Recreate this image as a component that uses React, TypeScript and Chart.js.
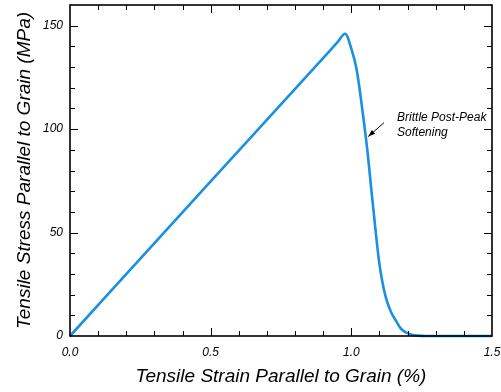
import React, { useEffect, useRef } from 'react';
import { Chart, registerables } from 'chart.js';

Chart.register(...registerables);

// Tensile strain (%) and tensile stress (MPa)
const strainPct = [0, 0.5, 0.924, 0.95, 0.978, 1.001, 1.019, 1.033, 1.046, 1.058, 1.07, 1.086, 1.098, 1.109, 1.123, 1.141, 1.159, 1.177, 1.194, 1.216, 1.237, 1.262, 1.35, 1.5];
const stressMPa = [0, 74.7, 138, 141.9, 146.1, 138.4, 128.7, 115.8, 102.1, 88.5, 72.2, 51.2, 36.7, 27.1, 18.4, 11.6, 7.3, 3.4, 1.7, 0.6, 0.2, 0, 0, 0];

const xLabelValues = [0, 0.5, 1.0, 1.5];
const yLabelValues = [0, 50, 100, 150];
const xMinorStep = 0.1;
const yMinorStep = 10;

const xTitle = 'Tensile Strain Parallel to Grain (%)';
const yTitle = 'Tensile Stress Parallel to Grain (MPa)';
const noteLines = ['Brittle Post-Peak', 'Softening'];

const FONT = '"Liberation Sans", Arial, Helvetica, sans-serif';

const isXMajor = (v: number) => xLabelValues.some((l) => Math.abs(l - v) < 1e-6);
const isYMajor = (v: number) => yLabelValues.some((l) => Math.abs(l - v) < 1e-6);

const zeroPadding = (s: any) => {
  s.paddingTop = 0;
  s.paddingBottom = 0;
  s.paddingLeft = 0;
  s.paddingRight = 0;
};

const framePlugin = {
  id: 'framePlugin',
  afterDraw(chart: any) {
    const { ctx, chartArea: a, scales } = chart;
    const xs = scales.x;
    const ys = scales.y;
    ctx.save();
    ctx.strokeStyle = '#000';
    ctx.lineWidth = 1;
    ctx.beginPath();
    const nx = Math.round((xs.max - xs.min) / xMinorStep);
    for (let i = 1; i < nx; i++) {
      const v = xs.min + i * xMinorStep;
      const px = Math.round(xs.getPixelForValue(v)) + 0.5;
      const len = isXMajor(v) ? 8 : 5;
      ctx.moveTo(px, a.bottom);
      ctx.lineTo(px, a.bottom - len);
      ctx.moveTo(px, a.top);
      ctx.lineTo(px, a.top + len);
    }
    const ny = Math.round((ys.max - ys.min) / yMinorStep);
    for (let i = 1; i < ny; i++) {
      const v = ys.min + i * yMinorStep;
      const py = Math.round(ys.getPixelForValue(v)) + 0.5;
      const len = isYMajor(v) ? 8 : 5;
      ctx.moveTo(a.left, py);
      ctx.lineTo(a.left + len, py);
      ctx.moveTo(a.right, py);
      ctx.lineTo(a.right - len, py);
    }
    ctx.stroke();

    ctx.lineWidth = 1.6;
    ctx.strokeRect(a.left, a.top, a.right - a.left, a.bottom - a.top);

    // annotation
    const tail = { x: xs.getPixelForValue(1.116), y: ys.getPixelForValue(103.1) };
    const tip = { x: xs.getPixelForValue(1.06), y: ys.getPixelForValue(96.4) };
    ctx.lineWidth = 1;
    ctx.beginPath();
    ctx.moveTo(tail.x, tail.y);
    ctx.lineTo(tip.x, tip.y);
    ctx.stroke();
    const ang = Math.atan2(tip.y - tail.y, tip.x - tail.x);
    const hl = 7;
    const hw = 2.5;
    ctx.fillStyle = '#000';
    ctx.beginPath();
    ctx.moveTo(tip.x, tip.y);
    ctx.lineTo(tip.x - hl * Math.cos(ang) + hw * Math.sin(ang), tip.y - hl * Math.sin(ang) - hw * Math.cos(ang));
    ctx.lineTo(tip.x - hl * Math.cos(ang) - hw * Math.sin(ang), tip.y - hl * Math.sin(ang) + hw * Math.cos(ang));
    ctx.closePath();
    ctx.fill();

    ctx.font = `italic 12px ${FONT}`;
    ctx.textAlign = 'left';
    ctx.textBaseline = 'middle';
    const tx = xs.getPixelForValue(1.1625);
    ctx.fillText(noteLines[0], tx, ys.getPixelForValue(105.5));
    ctx.fillText(noteLines[1], tx, ys.getPixelForValue(98.2));
    ctx.restore();
  },
};

export default function App() {
  const ref = useRef<HTMLCanvasElement | null>(null);

  useEffect(() => {
    if (!ref.current) return;
    const chart = new Chart(ref.current, {
      type: 'line',
      data: {
        datasets: [
          {
            data: strainPct.map((x, i) => ({ x, y: stressMPa[i] })),
            borderColor: '#1b8fe2',
            borderWidth: 2.6,
            pointRadius: 0,
            fill: false,
            cubicInterpolationMode: 'monotone',
            clip: 5,
          } as any,
        ],
      },
      options: {
        animation: false,
        responsive: false,
        devicePixelRatio: 1,
        layout: { padding: { left: 0, top: 5, right: 9, bottom: 0 } },
        plugins: { legend: { display: false }, tooltip: { enabled: false } },
        scales: {
          x: {
            type: 'linear',
            min: 0,
            max: 1.5,
            grid: { display: false, drawTicks: false },
            border: { display: false },
            ticks: {
              stepSize: 0.1,
              autoSkip: false,
              maxRotation: 0,
              padding: 9,
              color: '#000',
              font: { family: FONT, size: 12, style: 'italic' },
              callback: (v: any) => (isXMajor(Number(v)) ? Number(v).toFixed(1) : null),
            },
            title: {
              display: true,
              text: xTitle,
              color: '#000',
              font: { family: FONT, size: 19, style: 'italic' },
              padding: { top: 0, bottom: 3.6 },
            },
            afterFit: (s: any) => {
              s.height = 56;
              zeroPadding(s);
            },
          },
          y: {
            type: 'linear',
            min: 0,
            max: 160,
            grid: { display: false, drawTicks: false },
            border: { display: false },
            ticks: {
              stepSize: 10,
              autoSkip: false,
              padding: 7,
              color: '#000',
              font: { family: FONT, size: 12, style: 'italic' },
              callback: (v: any) => (isYMajor(Number(v)) ? String(v) : null),
            },
            title: {
              display: true,
              text: yTitle,
              color: '#000',
              font: { family: FONT, size: 19, style: 'italic' },
              padding: { top: 13.6, bottom: 0 },
            },
            afterFit: (s: any) => {
              s.width = 70;
              zeroPadding(s);
            },
          },
        },
      } as any,
      plugins: [framePlugin],
    });
    return () => chart.destroy();
  }, []);

  return (
    <div style={{ position: 'absolute', left: 0, top: 0, width: 501, height: 392, background: '#fff' }}>
      <canvas ref={ref} width={501} height={392} style={{ display: 'block' }} />
    </div>
  );
}
